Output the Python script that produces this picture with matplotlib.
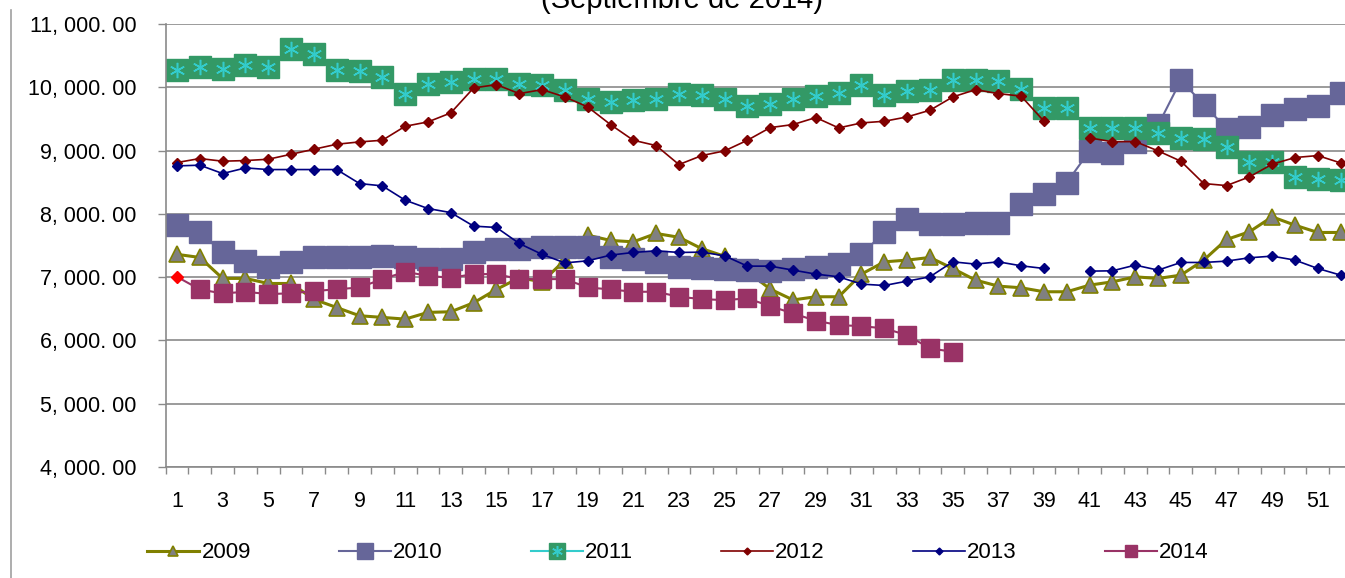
import numpy as np
import matplotlib
matplotlib.use("Agg")
import matplotlib.pyplot as plt
from matplotlib.lines import Line2D

nan = np.nan
weeks = list(range(1, 53))
y_ticks = [4000, 5000, 6000, 7000, 8000, 9000, 10000, 11000]
x_labels = list(range(1, 53, 2))
title = "(Septiembre de 2014)"

y2009 = [7360, 7311, 6980, 6980, 6900, 6900, 6650, 6520, 6390, 6364,
         6337, 6443, 6453, 6595, 6806, 6990, 6926, 7269, 7663, 7580,
         7558, 7690, 7630, 7450, 7330, 7090, 6811, 6640, 6690, 6690,
         7048, 7242, 7269, 7311, 7137, 6953, 6858, 6832, 6769, 6769,
         6874, 6926, 7005, 6979, 7032, 7269, 7595, 7716, 7953, 7821, 7706, 7706]
y2010 = [7821, 7706, 7390, 7258, 7160, 7232, 7316, 7322, 7311, 7337,
         7311, 7285, 7285, 7400, 7442, 7442, 7480, 7480, 7480, 7311,
         7285, 7232, 7153, 7140, 7130, 7110, 7100, 7127, 7153, 7206,
         7363, 7706, 7916, 7837, 7837, 7848, 7860, 8153, 8311, 8495,
         8995, 8969, 9137, 9400, 10111, 9727, 9348, 9368, 9558, 9653, 9705, 9911]
y2011 = [10269, 10321, 10295, 10348, 10321, 10611, 10521, 10269, 10258, 10163,
         9900, 10058, 10085, 10137, 10137, 10058, 10032, 9953, 9821, 9768,
         9795, 9821, 9900, 9874, 9811, 9700, 9742, 9811, 9863, 9911,
         10032, 9874, 9943, 9963, 10111, 10111, 10095, 9979, 9679, 9679,
         9358, 9358, 9358, 9284, 9205, 9190, 9058, 8821, 8821, 8584, 8558, 8532]
y2012 = [8811, 8874, 8832, 8842, 8863, 8942, 9021, 9100, 9137, 9163,
         9384, 9453, 9595, 9990, 10042, 9900, 9963, 9847, 9690, 9411,
         9163, 9079, 8779, 8921, 8995, 9163, 9363, 9411, 9522, 9358,
         9437, 9463, 9532, 9637, 9847, 9963, 9900, 9860, 9463, nan,
         9200, 9140, 9142, 8995, 8832, 8479, 8447, 8584, 8784, 8890, 8921, 8805]
y2013 = [8758, 8769, 8637, 8726, 8700, 8700, 8700, 8700, 8479, 8442,
         8216, 8084, 8020, 7806, 7785, 7532, 7360, 7225, 7258, 7348,
         7390, 7416, 7390, 7395, 7337, 7174, 7174, 7111, 7048, 7005,
         6890, 6868, 6937, 7005, 7242, 7206, 7242, 7179, 7137, nan,
         7095, 7100, 7190, 7111, 7232, 7232, 7253, 7306, 7332, 7269, 7137, 7032]
y2014 = [7005, 6806, 6742, 6769, 6732, 6745, 6780, 6808, 6837, 6969,
         7084, 7021, 6990, 7048, 7048, 6969, 6969, 6969, 6837, 6806,
         6769, 6769, 6690, 6653, 6637, 6664, 6542, 6427, 6311, 6242,
         6226, 6190, 6084, 5874, 5821]

plt.rcParams['font.family'] = ['Liberation Sans', 'DejaVu Sans']

W, H = 1345, 578
fig = plt.figure(figsize=(W / 100, H / 100), dpi=100)
ax = fig.add_axes([165.6 / W, 1 - 467 / H, (1352 - 165.6) / W, (467 - 24) / H])
ax.set_xlim(0.5, 52.5)
ax.set_ylim(4000, 11000)

grid_c = '#8a8a8a'
ax.set_yticks(y_ticks)
ax.set_yticklabels([f"{v:,.2f}".replace(",", ", ").replace(".", ". ") for v in y_ticks],
                   fontsize=15.5)
ax.yaxis.grid(True, color=grid_c, lw=1.2)
ax.set_axisbelow(True)
ax.tick_params(axis='y', direction='out', length=6, color=grid_c, pad=15, width=1)

ax.set_xticks(np.arange(0.5, 53, 1.0))
ax.set_xticklabels([])
ax.tick_params(axis='x', which='major', direction='out', length=5, color=grid_c, width=1)
ax.set_xticks(x_labels, minor=True)
ax.set_xticklabels([str(v) for v in x_labels], minor=True, fontsize=15.5)
ax.tick_params(axis='x', which='minor', length=0, pad=17)

for s in ['top', 'right']:
    ax.spines[s].set_visible(False)
for s in ['left', 'bottom']:
    ax.spines[s].set_color(grid_c)
    ax.spines[s].set_linewidth(1.2)

w = np.array(weeks)
h09, = ax.plot(w, y2009, color='#808000', lw=2.2, marker='^', ms=11,
               mfc='#808080', mec='#808000', mew=1.2, label='2009')
h10, = ax.plot(w, y2010, color='#666699', lw=1.5, marker='s', ms=16,
               mfc='#666699', mec='#666699', label='2010')
h11a, = ax.plot(w, y2011, color='#33CCCC', lw=1.5, marker='s', ms=16,
                mfc='#339966', mec='#339966')
h11b, = ax.plot(w, y2011, ls='none', marker=(6, 2, 0), ms=11,
                mec='#33CCCC', mew=1.1)
h12, = ax.plot(w, y2012, color='#800000', lw=1.2, marker='D', ms=5,
               mfc='#800000', mec='#800000', label='2012')
h13, = ax.plot(w, y2013, color='#000080', lw=1.2, marker='D', ms=5,
               mfc='#000080', mec='#000080', label='2013')
w14 = np.array(weeks[:len(y2014)])
h14, = ax.plot(w14, y2014, color='#993366', lw=1.5, marker='s', ms=12.5,
               mfc='#993366', mec='#993366', markevery=list(range(1, len(y2014))),
               label='2014')
ax.plot(w14[:1], y2014[:1], ls='none', marker='D', ms=6, mfc='#FF0000', mec='#FF0000')

fig.text(682 / W, 1 - 8 / H, title, ha='center', va='baseline', fontsize=21)

fig.add_artist(Line2D([11 / W, 11 / W], [0, 1 - 10 / H], color='#a0a0a0', lw=1.2))

leg = fig.legend([h09, h10, (h11a, h11b), h12, h13, h14],
                 ['2009', '2010', '2011', '2012', '2013', '2014'],
                 loc='center left', bbox_to_anchor=(136 / W, 1 - 553 / H),
                 ncol=6, frameon=False, fontsize=16, handlelength=2.35,
                 handletextpad=0.1, columnspacing=3.95, borderpad=0,
                 markerscale=0.7)

fig.savefig('out.png', dpi=100)
